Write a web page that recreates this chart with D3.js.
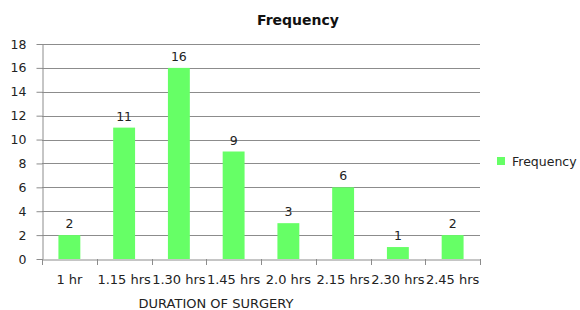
<!DOCTYPE html>
<html><head><meta charset="utf-8">
<script src="https://cdn.jsdelivr.net/npm/d3@7"></script>
<style>body{margin:0;background:#fff}svg{display:block}</style>
</head><body>
<svg id="c" width="580" height="310"></svg>
<script>
const categories = ["1 hr","1.15 hrs","1.30 hrs","1.45 hrs","2.0 hrs","2.15 hrs","2.30 hrs","2.45 hrs"];
const frequency = [2,11,16,9,3,6,1,2];
const yTicks = [0,2,4,6,8,10,12,14,16,18];
const seriesName = "Frequency";
const chartTitle = "Frequency";
const xTitle = "DURATION OF SURGERY";

const svg = d3.select("#c");
const font = "'DejaVu Sans', sans-serif";
const L = 42, R = 480, T = 44, B = 259;
const x = d3.scaleBand().domain(categories).range([L, R]).paddingInner(0.6).paddingOuter(0.3);
const xb = d3.scaleBand().domain(categories).range([L, R]);
const y = d3.scaleLinear().domain([0, 18]).range([B, T]);

// gridlines
svg.append("g").selectAll("line").data(yTicks.filter(d=>d>0)).join("line")
  .attr("x1", L).attr("x2", R).attr("y1", d=>Math.round(y(d))+0.5).attr("y2", d=>Math.round(y(d))+0.5)
  .attr("stroke", "#8c8c8c").attr("stroke-width", 1);

// y axis
const ya = svg.append("g").attr("transform", `translate(${L+0.5},0)`)
  .call(d3.axisLeft(y).tickValues(yTicks).tickSize(6).tickSizeOuter(0).tickPadding(10));
ya.select(".domain").attr("stroke", "#8c8c8c");
ya.selectAll(".tick line").attr("stroke", "#8c8c8c");
ya.selectAll("text").attr("font-family", font).attr("font-size", 12.5).attr("fill", "#222");

// bars
svg.append("g").selectAll("rect").data(frequency).join("rect")
  .attr("x", (d,i)=>x(categories[i]))
  .attr("width", x.bandwidth())
  .attr("y", d=>y(d)).attr("height", d=>y(0)-y(d))
  .attr("fill", "#66ff66");

// x axis
const xa = svg.append("g").attr("transform", `translate(0,${B+0.5})`)
  .call(d3.axisBottom(xb).tickSize(0).tickPadding(15));
xa.select(".domain").attr("stroke", "#8c8c8c");
xa.selectAll("text").attr("font-family", font).attr("font-size", 13).attr("fill", "#222");
// tick marks at band boundaries
svg.append("g").selectAll("line").data(categories.concat(["__end"])).join("line")
  .attr("x1", (d,i)=> Math.round(L + i*xb.step())+0.5)
  .attr("x2", (d,i)=> Math.round(L + i*xb.step())+0.5)
  .attr("y1", B).attr("y2", B+6)
  .attr("stroke", "#8c8c8c");

// data labels
svg.append("g").selectAll("text").data(frequency).join("text")
  .attr("x", (d,i)=>x(categories[i]) + x.bandwidth()/2)
  .attr("y", d=>y(d)-7)
  .attr("text-anchor", "middle")
  .attr("font-family", font).attr("font-size", 12.5).attr("fill", "#222")
  .text(d=>d);

// title
svg.append("text").attr("x", 298).attr("y", 25).attr("text-anchor", "middle")
  .attr("font-family", font).attr("font-weight", "bold").attr("font-size", 14).attr("fill", "#111")
  .text(chartTitle);

// x title
svg.append("text").attr("x", 216).attr("y", 308).attr("text-anchor", "middle")
  .attr("font-family", font).attr("font-size", 13).attr("fill", "#222")
  .text(xTitle);

// legend
const lg = svg.append("g").attr("transform", "translate(497,157)");
lg.append("rect").attr("width", 8).attr("height", 8).attr("fill", "#66ff66");
lg.append("text").attr("x", 15).attr("y", 8.5).attr("font-family", font).attr("font-size", 12.5).attr("fill", "#222").text(seriesName);
</script>
</body></html>
